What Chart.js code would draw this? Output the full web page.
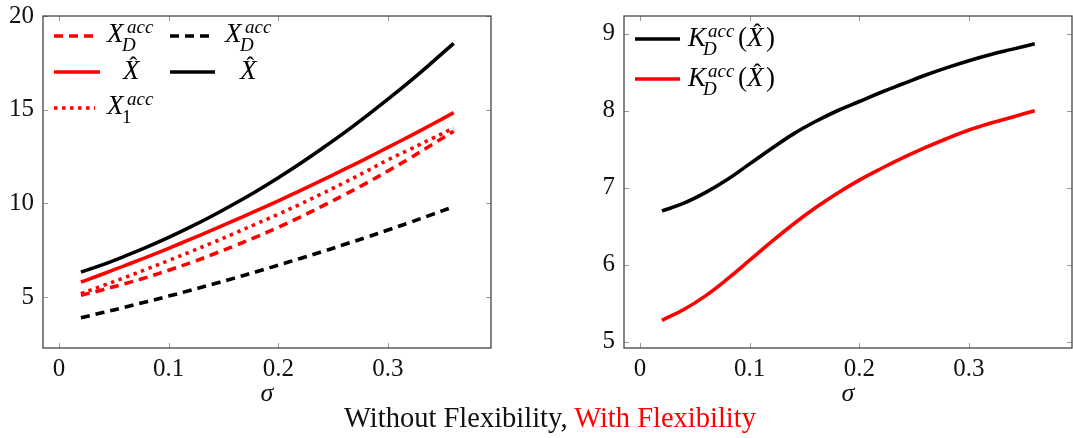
<!DOCTYPE html>
<html>
<head>
<meta charset="utf-8">
<script src="https://cdn.jsdelivr.net/npm/chart.js@4/dist/chart.umd.min.js"></script>
<style>
  body { margin: 0; background: #fff; width: 1073px; height: 438px; position: relative; overflow: hidden; }
  #left { position: absolute; left: 0; top: 0; }
  #right { position: absolute; left: 580px; top: 0; }
  .caption { position: absolute; left: 550px; top: 404px; transform: translateX(-50%); white-space: nowrap;
             font-family: "Liberation Serif", serif; font-size: 28.5px; line-height: 27px; color: #111; }
  .caption span { color: #f00; }
</style>
</head>
<body>
<canvas id="left" width="500" height="410"></canvas>
<canvas id="right" width="493" height="410"></canvas>
<div class="caption">Without Flexibility, <span>With Flexibility</span></div>
<script>
// sigma values (x axis)
const sigma = [0.02, 0.04, 0.06, 0.08, 0.10, 0.12, 0.14, 0.16, 0.18, 0.20, 0.22, 0.24, 0.26, 0.28, 0.30, 0.32, 0.34, 0.36];

// left plot - without flexibility (black)
const xdAccNoFlex = [3.90, 4.17, 4.46, 4.75, 5.05, 5.36, 5.68, 6.01, 6.35, 6.70, 7.06, 7.42, 7.80, 8.18, 8.58, 8.98, 9.40, 9.82];
const xHatNoFlex  = [6.33, 6.73, 7.18, 7.66, 8.18, 8.74, 9.34, 9.98, 10.65, 11.37, 12.13, 12.93, 13.76, 14.64, 15.56, 16.51, 17.51, 18.54];
// left plot - with flexibility (red)
const xdAccFlex = [5.09, 5.39, 5.71, 6.05, 6.43, 6.83, 7.27, 7.73, 8.21, 8.72, 9.27, 9.85, 10.45, 11.07, 11.73, 12.41, 13.13, 13.85];
const xHatFlex  = [5.80, 6.23, 6.68, 7.13, 7.60, 8.09, 8.58, 9.09, 9.61, 10.13, 10.68, 11.24, 11.81, 12.39, 12.99, 13.59, 14.21, 14.84];
const x1AccFlex = [5.18, 5.61, 6.04, 6.49, 6.95, 7.42, 7.90, 8.40, 8.91, 9.42, 9.96, 10.52, 11.10, 11.70, 12.32, 12.88, 13.45, 14.02];

// right plot - K_D^acc(X hat)
const kNoFlex = [6.70, 6.80, 6.94, 7.11, 7.31, 7.51, 7.70, 7.86, 8.00, 8.12, 8.24, 8.35, 8.46, 8.56, 8.65, 8.73, 8.80, 8.87];
const kFlex   = [5.28, 5.42, 5.60, 5.82, 6.06, 6.30, 6.53, 6.74, 6.93, 7.10, 7.25, 7.39, 7.52, 7.64, 7.75, 7.84, 7.92, 8.00];

const xTicks = [0, 0.1, 0.2, 0.3];
const yTicksLeft = [5, 10, 15, 20];
const yTicksRight = [5, 6, 7, 8, 9];

const SERIF = '"Liberation Serif", "Times New Roman", serif';
const RED = '#ff0000';
const BLACK = '#000000';
const DASH = [9, 6];
const DOT = [3.5, 4.5];
const LW = 3.6;

function pts(ys) { return sigma.map((s, i) => ({ x: s, y: ys[i] })); }
function line(ys, color, dash) {
  return { data: pts(ys), borderColor: color, borderWidth: LW, borderDash: dash || [],
           borderCapStyle: 'butt', pointRadius: 0, tension: 0.4, fill: false };
}
const it = sz => 'italic ' + sz + 'px ' + SERIF;
const rm = sz => sz + 'px ' + SERIF;

// small math-ish text helpers for the legends
function drawXhat(ctx, x, base) {
  ctx.font = it(27); ctx.fillText('X', x, base);
  const w = ctx.measureText('X').width;
  ctx.font = rm(24);
  const hw = ctx.measureText('\u02C6').width;
  ctx.fillText('\u02C6', x + w / 2 + 2 - hw / 2, base - 6);
}
function drawAcc(ctx, letter, x, base, sub, subItalic) {
  ctx.font = it(27); ctx.fillText(letter, x, base);
  ctx.font = it(19); ctx.fillText('acc', x + 20, base - 9);
  ctx.font = subItalic ? it(19) : rm(19); ctx.fillText(sub, x + 15, base + 8.5);
}
function legendLine(ctx, x1, x2, y, color, dash) {
  ctx.save();
  ctx.strokeStyle = color; ctx.lineWidth = LW; ctx.setLineDash(dash || []); ctx.lineCap = 'butt';
  ctx.beginPath(); ctx.moveTo(x1, y); ctx.lineTo(x2, y); ctx.stroke();
  ctx.restore();
}

// frame + inward tick marks like pgfplots, then the legend
function framePlugin(drawLegend) {
  return {
    id: 'frame',
    afterDatasetsDraw(chart) {
      const { ctx, chartArea: a, scales } = chart;
      ctx.save();
      ctx.strokeStyle = '#999'; ctx.lineWidth = 1;
      ctx.beginPath();
      scales.x.ticks.forEach(t => {
        const px = Math.round(scales.x.getPixelForValue(t.value)) + 0.5;
        ctx.moveTo(px, a.bottom); ctx.lineTo(px, a.bottom - 5);
        ctx.moveTo(px, a.top); ctx.lineTo(px, a.top + 5);
      });
      scales.y.ticks.forEach(t => {
        const py = Math.round(scales.y.getPixelForValue(t.value)) + 0.5;
        ctx.moveTo(a.left, py); ctx.lineTo(a.left + 5, py);
        ctx.moveTo(a.right, py); ctx.lineTo(a.right - 5, py);
      });
      ctx.stroke();
      ctx.strokeStyle = '#444'; ctx.lineWidth = 1.3;
      ctx.strokeRect(a.left, a.top, a.right - a.left, a.bottom - a.top);
      ctx.restore();
    },
    afterDraw(chart) {
      const ctx = chart.ctx;
      ctx.save();
      ctx.textBaseline = 'alphabetic'; ctx.textAlign = 'left';
      drawLegend(ctx);
      ctx.restore();
    }
  };
}

function baseOptions(yMin, yMax, yTicks, yWidth, padRight) {
  return {
    responsive: false, animation: false, devicePixelRatio: 1,
    layout: { padding: { top: 14, right: padRight, left: 0, bottom: 0 }, autoPadding: false },
    plugins: { legend: { display: false }, tooltip: { enabled: false } },
    scales: {
      x: {
        type: 'linear', min: -0.0146, max: 0.394,
        afterBuildTicks: s => { s.ticks = xTicks.map(v => ({ value: v })); },
        afterFit: s => { s.height = 62; },
        grid: { display: false }, border: { display: false },
        ticks: { padding: -2, color: '#111', font: { family: SERIF, size: 25 },
                 callback: v => v === 0 ? '0' : v.toFixed(1) },
        title: { display: true, text: 'σ', color: '#111', padding: { top: 0, bottom: 0 },
                 font: { family: SERIF, size: 26, style: 'italic' } }
      },
      y: {
        min: yMin, max: yMax,
        afterBuildTicks: s => { s.ticks = yTicks.map(v => ({ value: v })); },
        afterFit: s => { s.width = yWidth; },
        grid: { display: false }, border: { display: false },
        ticks: { padding: 1, color: '#111', font: { family: SERIF, size: 25 } }
      }
    }
  };
}

// left chart
function leftLegend(ctx) {
  legendLine(ctx, 54, 95, 36, RED, DASH);
  legendLine(ctx, 170, 211, 36, BLACK, DASH);
  legendLine(ctx, 54, 100, 72, RED);
  legendLine(ctx, 170, 215, 72, BLACK);
  legendLine(ctx, 54, 95, 108, RED, DOT);
  ctx.fillStyle = '#000';
  drawAcc(ctx, 'X', 107, 42, 'D', true);
  drawAcc(ctx, 'X', 225, 42, 'D', true);
  drawXhat(ctx, 123, 79);
  drawXhat(ctx, 240, 79);
  drawAcc(ctx, 'X', 107, 114, '1', false);
}
new Chart(document.getElementById('left'), {
  type: 'line',
  data: {
    datasets: [
      line(xdAccFlex, RED, DASH),
      line(xHatFlex, RED),
      line(x1AccFlex, RED, DOT),
      line(xdAccNoFlex, BLACK, DASH),
      line(xHatNoFlex, BLACK)
    ]
  },
  options: baseOptions(2.28, 20, yTicksLeft, 43, 9),
  plugins: [framePlugin(leftLegend)]
});

// right chart (canvas starts at page x = 580)
function rightLegend(ctx) {
  legendLine(ctx, 55, 100, 39, BLACK);
  legendLine(ctx, 55, 100, 79, RED);
  ctx.fillStyle = '#000';
  [46, 86].forEach(b => {
    drawAcc(ctx, 'K', 108, b, 'D', true);
    ctx.font = rm(27); ctx.fillText('(', 158, b);
    drawXhat(ctx, 167, b);
    ctx.font = rm(27); ctx.fillText(')', 186, b);
  });
}
new Chart(document.getElementById('right'), {
  type: 'line',
  data: { datasets: [line(kNoFlex, BLACK), line(kFlex, RED)] },
  options: baseOptions(4.92, 9.23, yTicksRight, 44, 1),
  plugins: [framePlugin(rightLegend)]
});
</script>
</body>
</html>
